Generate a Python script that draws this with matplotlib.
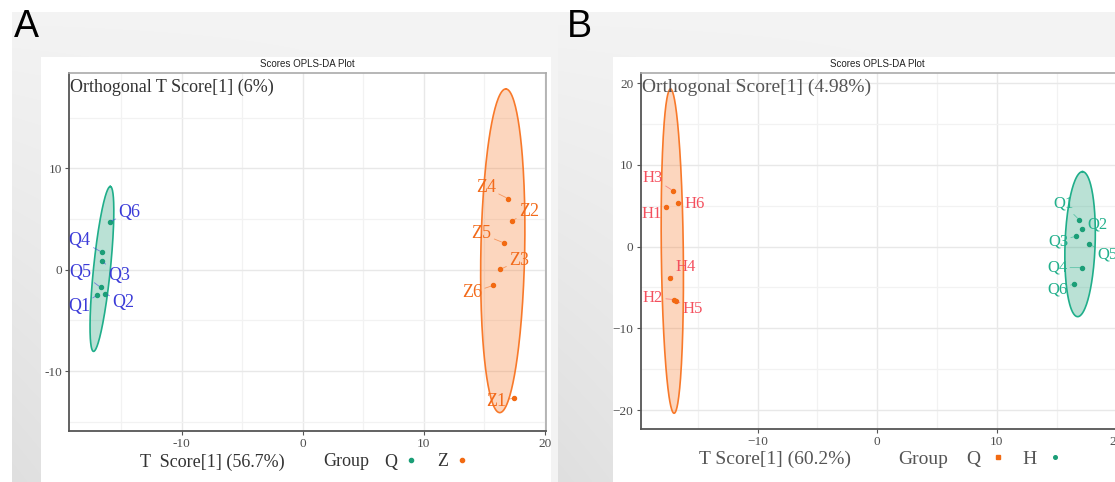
import numpy as np
import matplotlib
matplotlib.use('Agg')
import matplotlib.pyplot as plt
from matplotlib.patches import Rectangle
from matplotlib.lines import Line2D

W, H = 1115, 482

# ---- panel A : Q vs Z ----
a_q_names = ['Q1', 'Q2', 'Q3', 'Q4', 'Q5', 'Q6']
a_q_t = [-17.0, -16.3, -16.55, -16.6, -16.69, -15.95]
a_q_o = [-2.53, -2.36, 0.82, 1.74, -1.74, 4.73]
a_z_names = ['Z1', 'Z2', 'Z3', 'Z4', 'Z5', 'Z6']
a_z_t = [17.47, 17.29, 16.31, 16.96, 16.59, 15.73]
a_z_o = [-12.64, 4.83, 0.03, 7.02, 2.66, -1.55]

# ---- panel B : H vs Q ----
b_h_names = ['H1', 'H2', 'H3', 'H4', 'H5', 'H6']
b_h_t = [-17.65, -17.0, -17.1, -17.35, -16.85, -16.7]
b_h_o = [4.82, -6.48, 6.85, -3.88, -6.64, 5.38]
b_q_names = ['Q1', 'Q2', 'Q3', 'Q4', 'Q5', 'Q6']
b_q_t = [16.88, 17.1, 16.63, 17.14, 17.74, 16.43]
b_q_o = [3.30, 2.17, 1.27, -2.57, 0.33, -4.57]

# confidence ellipses: centre t, centre o,
# half major axis (dt, do), half width across at centre
ell_a_q = (-16.58, 0.08, 0.69, 8.13, 0.70)
ell_a_z = (16.53, 1.87, 0.25, 15.96, 1.81)
ell_b_h = (-17.14, -0.56, -0.15, 19.83, 0.92)
ell_b_q = (16.97, 0.30, 0.20, 8.87, 1.26)

# label offsets (pixels) as placed by the repel layout
off_a_q = [(-18, -11), (18, -9), (17, -14), (-22, 12), (-20, 15), (20, 9)]
off_a_z = [(-18, -4), (17, 9), (19, 9), (-22, 11), (-22, 9), (-21, -7)]
off_b_h = [(-14, -7), (-21, 2), (-20, 13), (16, 11), (17, -8), (17, -1)]
off_b_q = [(-16, 16), (16, 4), (-18, -5), (-25, 0), (18, -11), (-16, -6)]

TEAL = '#1b9e77'
TEAL_LINE = '#1fae8a'
ORANGE = '#f26a12'
ORANGE_LINE = '#f8792a'


def ellipse_xy(e, n=240):
    cx, cy, mx, my, w = e
    t = np.linspace(0, 2 * np.pi, n)
    return cx + mx * np.cos(t) + w * np.sin(t), cy + my * np.cos(t)


def draw_group(ax, names, ts, os_, offs, e, pcol, lcol, fcol, tcol, font, fs):
    ex, ey = ellipse_xy(e)
    ax.fill(ex, ey, color=fcol, alpha=0.3, lw=0, zorder=2)
    ax.plot(ex, ey, color=lcol, lw=1.2, zorder=3)
    ax.plot(ts, os_, 'o', color=pcol, ms=2.9, zorder=4)
    for name, t, o, off in zip(names, ts, os_, offs):
        ax.annotate(name, (t, o), xytext=off, textcoords='offset pixels',
                    ha='center', va='center', color=tcol, fontsize=fs,
                    family=font, zorder=5,
                    arrowprops=dict(arrowstyle='-', color=tcol, lw=0.6,
                                    alpha=0.6, shrinkA=0, shrinkB=1.5))


def style_axes(ax, xlim, ylim, xmaj, xmin, ymaj, ymin, font, minus):
    ax.set_zorder(3)
    ax.set_xlim(*xlim)
    ax.set_ylim(*ylim)
    ax.set_xticks(xmaj)
    ax.set_xticks(xmin, minor=True)
    ax.set_yticks(ymaj)
    ax.set_yticks(ymin, minor=True)
    fmt = (lambda v: str(v).replace('-', '\u2212')) if minus else str
    ax.set_xticklabels([fmt(v) for v in xmaj], family=font, fontsize=9.5, color='#4d4d4d')
    ax.set_yticklabels([fmt(v) for v in ymaj], family=font, fontsize=9.5, color='#4d4d4d')
    ax.grid(which='major', color='#e8e8e8', lw=1.0, zorder=0)
    ax.grid(which='minor', color='#f2f2f2', lw=0.9, zorder=0)
    ax.set_axisbelow(True)
    ax.tick_params(which='major', length=3, width=0.8, color='#555555', pad=2)
    ax.tick_params(which='minor', length=0)
    for s in ['left', 'bottom']:
        ax.spines[s].set_color('#555555')
        ax.spines[s].set_linewidth(1.3)
    for s in ['top', 'right']:
        ax.spines[s].set_color('#aaaaaa')
        ax.spines[s].set_linewidth(1.2)


fig = plt.figure(figsize=(W / 100, H / 100), dpi=100)

# grey backdrop with soft gradient, white cards
yy, xx = np.mgrid[0:H, 0:W]
bg = np.ones((H, W))
for x0, x1 in [(12, 558), (558, W)]:
    m = (xx >= x0) & (xx < x1) & (yy >= 12)
    u = (xx - x0) / (x1 - x0)
    v = (yy - 12) / (H - 12)
    bg[m] = (0.955 - 0.08 * v * (1 - u) ** 1.5)[m]
fig.figimage(np.dstack([bg, bg, bg]), xo=0, yo=0, origin='upper', zorder=0)
for x0, x1 in [(41, 551), (613, W)]:
    fig.patches.append(Rectangle((x0 / W, 0), (x1 - x0) / W, 1 - 57 / H,
                                 transform=fig.transFigure, facecolor='white',
                                 edgecolor='none', zorder=1))

fig.text(14 / W, 1 - 27 / H, 'A', fontsize=27, family='Liberation Sans', va='center', ha='left')
fig.text(567 / W, 1 - 27 / H, 'B', fontsize=27, family='Liberation Sans', va='center', ha='left')

# ---- panel A ----
axA = fig.add_axes([69 / W, 1 - 431 / H, 477 / W, 358 / H])
style_axes(axA, (-19.3, 20.1), (-15.9, 19.4), [-10, 0, 10, 20], [-15, -5, 5, 15],
           [-10, 0, 10], [-15, -5, 5, 15], 'Liberation Serif', False)
draw_group(axA, a_q_names, a_q_t, a_q_o, off_a_q, ell_a_q, TEAL, TEAL_LINE, TEAL,
           '#3b3bd8', 'Liberation Serif', 13)
draw_group(axA, a_z_names, a_z_t, a_z_o, off_a_z, ell_a_z, ORANGE, ORANGE_LINE, ORANGE_LINE,
           '#f26a1a', 'Liberation Serif', 13)
axA.text(0.003, 0.985, 'Orthogonal T Score[1] (6%)', transform=axA.transAxes,
         ha='left', va='top', fontsize=13, family='Liberation Serif', color='#333333')
fig.text(307 / W, 1 - 64 / H, 'Scores OPLS-DA Plot', ha='center', va='center',
         fontsize=7, family='Liberation Sans', color='#222222')
fig.text(140 / W, 1 - 462 / H, 'T  Score[1] (56.7%)', ha='left', va='center',
         fontsize=13, family='Liberation Serif', color='#333333')
fig.text(323 / W, 1 - 462 / H, 'Group', ha='left', va='center',
         fontsize=13, family='Liberation Serif', color='#333333')
hA = [Line2D([], [], ls='none', marker='o', ms=3, color=TEAL, label='Q'),
      Line2D([], [], ls='none', marker='o', ms=3, color=ORANGE, label='Z')]
legA = fig.legend(handles=hA, loc='center left', bbox_to_anchor=(384 / W, 1 - 462 / H),
                  ncol=2, frameon=False, markerfirst=False, handlelength=1.0,
                  handletextpad=0.3, columnspacing=0.9, borderpad=0, borderaxespad=0,
                  prop={'family': 'Liberation Serif', 'size': 13})
for t in legA.get_texts():
    t.set_color('#333333')

# ---- panel B ----
axB = fig.add_axes([640.5 / W, 1 - 429.3 / H, 477 / W, 356 / H])
style_axes(axB, (-19.8, 20.1), (-22.35, 21.2), [-10, 0, 10, 20], [-15, -5, 5, 15],
           [-20, -10, 0, 10, 20], [-15, -5, 5, 15], 'Liberation Serif', True)
axB.spines['right'].set_visible(False)
draw_group(axB, b_h_names, b_h_t, b_h_o, off_b_h, ell_b_h, ORANGE, ORANGE_LINE, ORANGE_LINE,
           '#f4505e', 'Liberation Serif', 12)
draw_group(axB, b_q_names, b_q_t, b_q_o, off_b_q, ell_b_q, TEAL, TEAL_LINE, TEAL,
           '#22b08c', 'Liberation Serif', 12)
axB.text(0.004, 0.985, 'Orthogonal Score[1] (4.98%)', transform=axB.transAxes,
         ha='left', va='top', fontsize=14, family='Liberation Serif', color='#555555')
fig.text(877 / W, 1 - 64 / H, 'Scores OPLS-DA Plot', ha='center', va='center',
         fontsize=7, family='Liberation Sans', color='#222222')
fig.text(699 / W, 1 - 459 / H, 'T Score[1] (60.2%)', ha='left', va='center',
         fontsize=14, family='Liberation Serif', color='#555555')
fig.text(898 / W, 1 - 459 / H, 'Group', ha='left', va='center',
         fontsize=14, family='Liberation Serif', color='#555555')
hB = [Line2D([], [], ls='none', marker='s', ms=2.6, color=ORANGE, label='Q'),
      Line2D([], [], ls='none', marker='o', ms=2.6, color=TEAL, label='H')]
legB = fig.legend(handles=hB, loc='center left', bbox_to_anchor=(966 / W, 1 - 459 / H),
                  ncol=2, frameon=False, markerfirst=False, handlelength=1.0,
                  handletextpad=0.4, columnspacing=0.8, borderpad=0, borderaxespad=0,
                  prop={'family': 'Liberation Serif', 'size': 14})
for t in legB.get_texts():
    t.set_color('#555555')

fig.savefig('out.png', dpi=100)
